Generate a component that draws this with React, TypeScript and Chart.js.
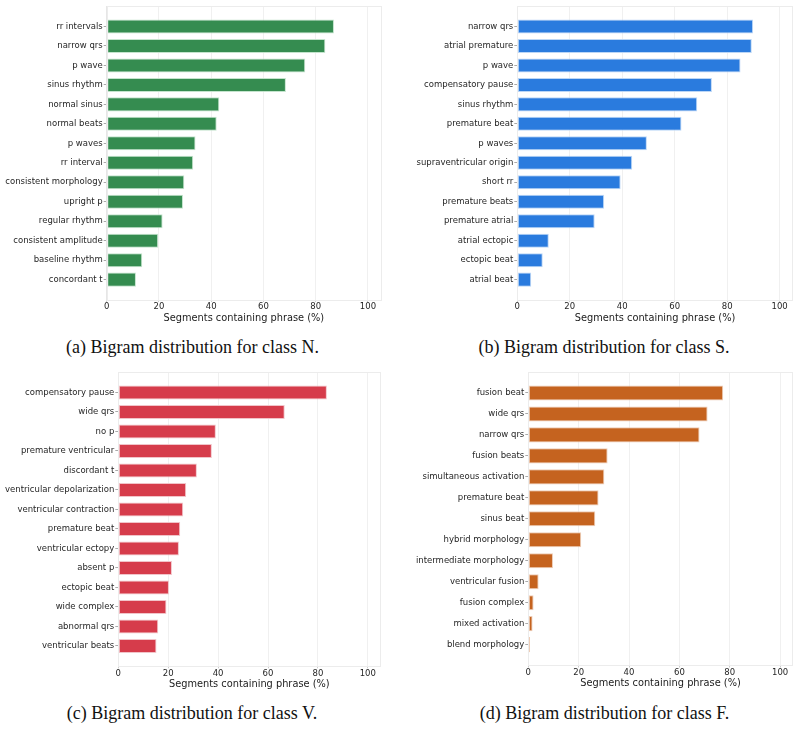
import React, { useEffect, useRef } from "react";
import { Chart, registerables } from "chart.js";

Chart.register(...registerables);

// ---- data ----
const labelsN = ["rr intervals", "narrow qrs", "p wave", "sinus rhythm", "normal sinus", "normal beats", "p waves", "rr interval", "consistent morphology", "upright p", "regular rhythm", "consistent amplitude", "baseline rhythm", "concordant t"];
const valuesN = [87.0, 83.7, 76.0, 68.6, 43.1, 42.1, 34.0, 33.1, 29.7, 29.2, 21.4, 19.7, 13.6, 11.2];

const labelsS = ["narrow qrs", "atrial premature", "p wave", "compensatory pause", "sinus rhythm", "premature beat", "p waves", "supraventricular origin", "short rr", "premature beats", "premature atrial", "atrial ectopic", "ectopic beat", "atrial beat"];
const valuesS = [89.9, 89.4, 85.1, 74.2, 68.6, 62.6, 49.4, 43.8, 39.4, 33.1, 29.5, 12.0, 9.7, 5.3];

const labelsV = ["compensatory pause", "wide qrs", "no p", "premature ventricular", "discordant t", "ventricular depolarization", "ventricular contraction", "premature beat", "ventricular ectopy", "absent p", "ectopic beat", "wide complex", "abnormal qrs", "ventricular beats"];
const valuesV = [83.6, 66.7, 39.1, 37.5, 31.5, 27.2, 26.0, 24.8, 24.3, 21.5, 20.3, 19.3, 16.0, 15.3];

const labelsF = ["fusion beat", "wide qrs", "narrow qrs", "fusion beats", "simultaneous activation", "premature beat", "sinus beat", "hybrid morphology", "intermediate morphology", "ventricular fusion", "fusion complex", "mixed activation", "blend morphology"];
const valuesF = [77.4, 71.2, 68.0, 31.5, 30.2, 27.9, 26.6, 21.0, 9.8, 4.1, 2.1, 1.7, 0.7];

const xTicks = [0, 20, 40, 60, 80, 100];
const xMax = 105;
const xTitle = "Segments containing phrase (%)";

const TICK_FONT = "'DejaVu Sans', sans-serif";

type PanelProps = {
  labels: string[];
  values: number[];
  color: string;
  border: string;
  box: { x: number; y: number; w: number; h: number };
  plot: { left: number; right: number; top: number; bottom: number };
  caption: string;
  capX: number;
  capY: number;
};

const frame = {
  id: "frame",
  afterDraw(chart: any) {
    const a = chart.chartArea;
    const ctx = chart.ctx;
    ctx.save();
    ctx.strokeStyle = "#ececec";
    ctx.lineWidth = 1;
    ctx.strokeRect(Math.round(a.left) + 0.5, Math.round(a.top) + 0.5, Math.round(a.right - a.left), Math.round(a.bottom - a.top));
    ctx.restore();
  },
};

function Panel(p: PanelProps) {
  const ref = useRef<HTMLCanvasElement>(null);
  useEffect(() => {
    const n = p.labels.length;
    const pad = 0.05 * (n - 1 + 0.72);
    const yMin = -0.36 - pad;
    const yMax = n - 1 + 0.36 + pad;
    const axisH = 24;
    const chart = new Chart(ref.current!, {
      type: "bar",
      data: {
        datasets: [
          {
            data: p.values.map((v, i) => ({ x: v, y: i })),
            backgroundColor: p.color,
            borderColor: p.border,
            borderWidth: 1,
            borderSkipped: false,
            barPercentage: 0.72,
            categoryPercentage: 1,
          },
        ],
      },
      options: {
        animation: false,
        responsive: false,
        indexAxis: "y",
        events: [],
        layout: {
          padding: {
            top: p.plot.top - p.box.y,
            left: 0,
            right: p.box.x + p.box.w - p.plot.right,
            bottom: p.box.y + p.box.h - p.plot.bottom - axisH,
          },
        },
        plugins: { legend: { display: false }, tooltip: { enabled: false } },
        scales: {
          x: {
            type: "linear",
            min: 0,
            max: xMax,
            offset: false,
            afterBuildTicks: (s: any) => {
              s.ticks = xTicks.map((v) => ({ value: v }));
            },
            afterFit: (s: any) => {
              s.height = axisH;
            },
            grid: { color: "#f0f0f0", drawTicks: true, tickLength: 2, tickColor: "#cccccc", offset: false },
            border: { color: "#e6e6e6" },
            ticks: { font: { family: TICK_FONT, size: 8.5 }, color: "#262626", padding: 0, maxRotation: 0 },
            title: { display: true, text: xTitle, font: { family: TICK_FONT, size: 9.8 }, color: "#1a1a1a", padding: { top: 0, bottom: 0 } },
          },
          y: {
            type: "linear",
            reverse: true,
            min: yMin,
            max: yMax,
            offset: false,
            afterBuildTicks: (s: any) => {
              s.ticks = p.labels.map((_, i) => ({ value: i }));
            },
            afterFit: (s: any) => {
              s.width = p.plot.left - p.box.x;
            },
            grid: { drawOnChartArea: false, drawTicks: true, tickLength: 3, tickColor: "#aaaaaa", offset: false },
            border: { color: "#e6e6e6" },
            ticks: {
              font: { family: TICK_FONT, size: 8.5 },
              color: "#262626",
              padding: 1,
              autoSkip: false,
              callback: (v: any) => p.labels[v] ?? "",
            },
          },
        },
      },
      plugins: [frame],
    } as any);
    return () => chart.destroy();
  }, []);
  return (
    <>
      <canvas
        ref={ref}
        width={p.box.w}
        height={p.box.h}
        style={{ position: "absolute", left: p.box.x, top: p.box.y, width: p.box.w, height: p.box.h }}
      />
      <div
        style={{
          position: "absolute",
          left: p.capX - 200,
          width: 400,
          top: p.capY - 12,
          height: 24,
          lineHeight: "24px",
          textAlign: "center",
          fontFamily: "'Liberation Serif', 'Times New Roman', serif",
          fontSize: 18,
          color: "#111",
          whiteSpace: "nowrap",
        }}
      >
        {p.caption}
      </div>
    </>
  );
}

export default function App() {
  return (
    <div style={{ position: "fixed", left: 0, top: 0, width: 799, height: 729, background: "#fff", overflow: "hidden" }}>
      <Panel
        labels={labelsN}
        values={valuesN}
        color="#358c50"
        border="rgba(190,225,200,0.9)"
        box={{ x: 0, y: 0, w: 395, h: 330 }}
        plot={{ left: 106.7, right: 381, top: 6, bottom: 300 }}
        caption="(a) Bigram distribution for class N."
        capX={192.5}
        capY={346.7}
      />
      <Panel
        labels={labelsS}
        values={valuesS}
        color="#2a7bde"
        border="rgba(180,210,245,0.9)"
        box={{ x: 400, y: 0, w: 399, h: 330 }}
        plot={{ left: 517.3, right: 792.7, top: 6, bottom: 300 }}
        caption="(b) Bigram distribution for class S."
        capX={604}
        capY={346.7}
      />
      <Panel
        labels={labelsV}
        values={valuesV}
        color="#d63c4b"
        border="rgba(240,190,195,0.9)"
        box={{ x: 0, y: 366, w: 395, h: 330 }}
        plot={{ left: 118.3, right: 380.3, top: 372, bottom: 666.3 }}
        caption="(c) Bigram distribution for class V."
        capX={192}
        capY={713.3}
      />
      <Panel
        labels={labelsF}
        values={valuesF}
        color="#c5631f"
        border="rgba(235,200,175,0.9)"
        box={{ x: 400, y: 366, w: 399, h: 330 }}
        plot={{ left: 528.3, right: 792.7, top: 372, bottom: 665.5 }}
        caption="(d) Bigram distribution for class F."
        capX={604.5}
        capY={713.3}
      />
    </div>
  );
}
